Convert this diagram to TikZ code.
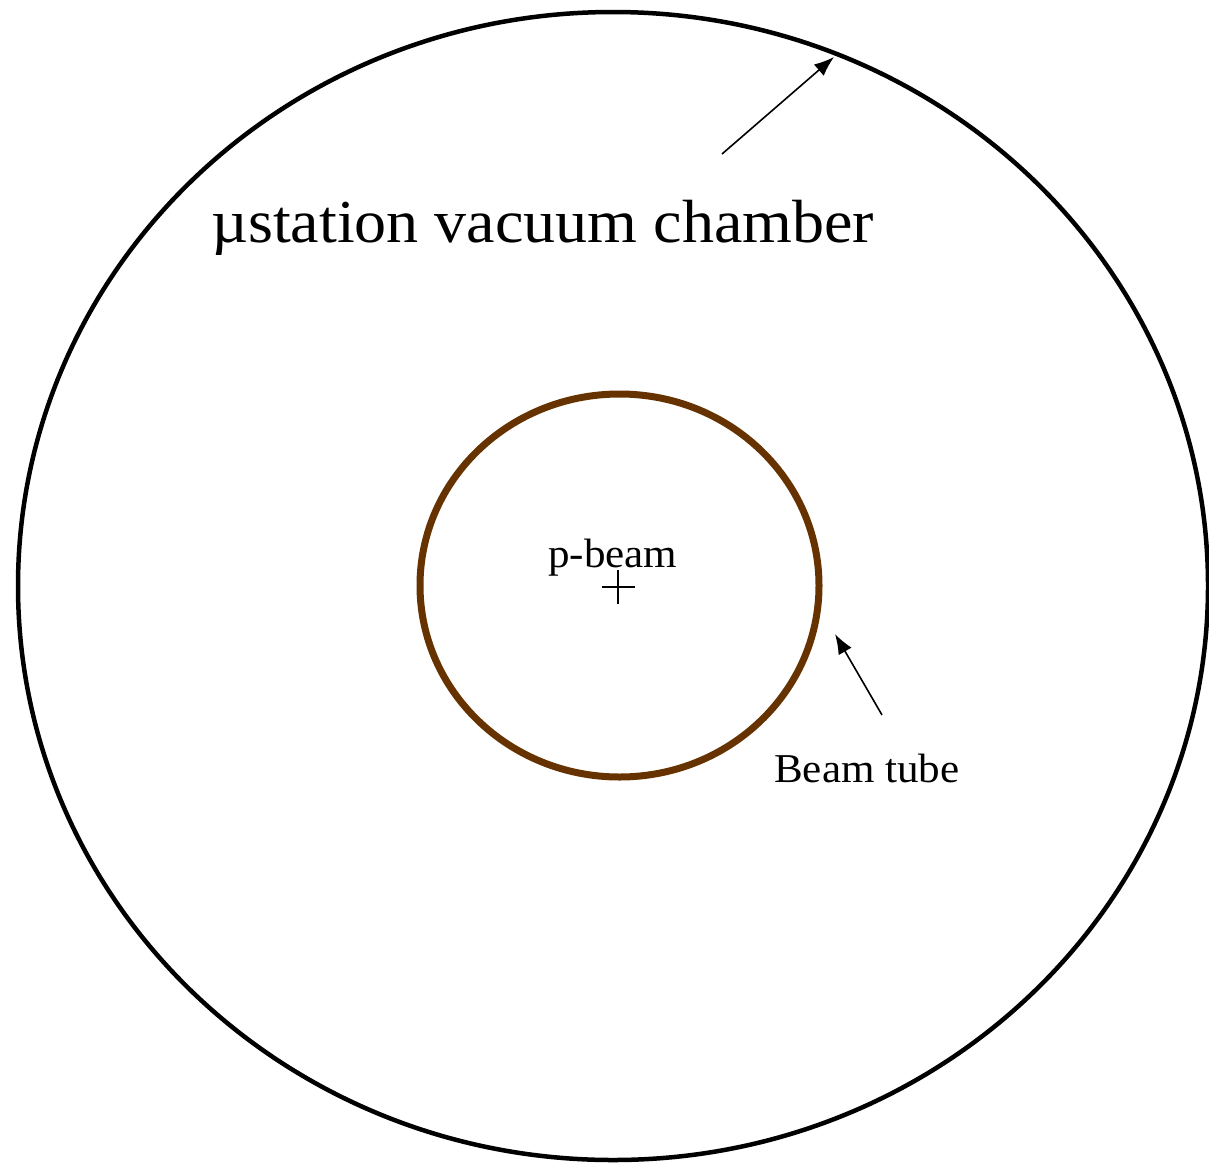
\documentclass[tikz,border=0pt]{standalone}
\usepackage{fontspec}
\setmainfont[FakeStretch=1.05]{Liberation Serif}
\usetikzlibrary{arrows.meta, positioning}
\definecolor{tubebrown}{HTML}{663300}

\begin{document}
\begin{tikzpicture}[
    x=1pt, y=-1pt,
    chamber/.style={draw=black, line width=4.5pt},
    tube/.style={draw=tubebrown, line width=7pt},
    label/.style={inner sep=0pt, anchor=base west},
    pointer/.style={-{Latex[length=20pt, width=15pt]}, line width=1.6pt}
]
\useasboundingbox (0,0) rectangle (1209,1165);

\draw[chamber] (613,586) ellipse [x radius=595, y radius=574];
\draw[tube] (619.5,585.5) ellipse [x radius=199.5, y radius=191.5];

\draw[line width=1.6pt] (602,587) -- (635,587) (618,570) -- (618,604);

\node[label, font=\fontsize{61}{70}\selectfont] (chambertext) at (211,242) {µstation vacuum chamber};
\node[label, font=\fontsize{41}{48}\selectfont] (beamtext) at (548,567) {p-beam};
\node[label, font=\fontsize{41}{48}\selectfont] (tubetext) at (774,782) {Beam tube};

\coordinate (chambertail) at (722,154);
\coordinate (chambertip) at (834,57);
\coordinate (tubetail) at (882,715);
\coordinate (tubetip) at (835,634);

\draw[pointer] (chambertail) -- (chambertip);
\draw[pointer] (tubetail) -- (tubetip);
\end{tikzpicture}
\end{document}
